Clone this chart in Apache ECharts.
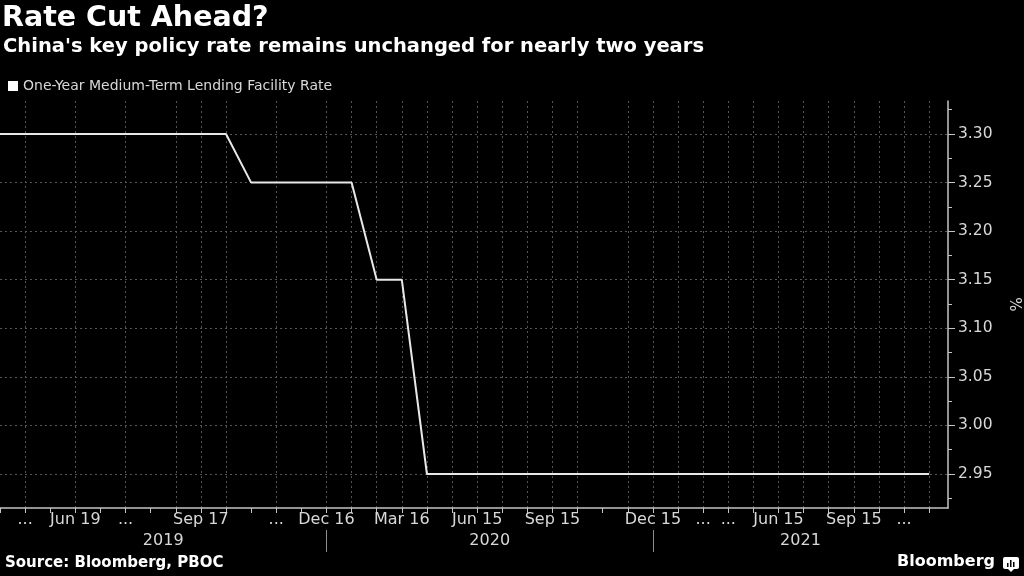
<!DOCTYPE html>
<html>
<head>
<meta charset="utf-8">
<title>Rate Cut Ahead?</title>
<script src="https://cdn.jsdelivr.net/npm/echarts@6/dist/echarts.min.js"></script>
<style>
    html, body { margin: 0; padding: 0; background: #000; }
    #chartmain { width: 1024px; height: 576px; }
</style>
</head>
<body>
<div id="chartmain"></div>
<script>
// one point per MLF operation, labels as printed under the axis
var tickLabels = ['', '...', '', 'Jun 19', '', '...', '', '', 'Sep 17', '', '', '...', '', 'Dec 16', '', '',
    'Mar 16', '', '', 'Jun 15', '', '', 'Sep 15', '', '', '', 'Dec 15', '', '...', '...', '', 'Jun 15', '', '',
    'Sep 15', '', '...', ''];
var rates = [3.30, 3.30, 3.30, 3.30, 3.30, 3.30, 3.30, 3.30, 3.30, 3.30,
    3.25, 3.25, 3.25, 3.25, 3.25,
    3.15, 3.15,
    2.95, 2.95, 2.95, 2.95, 2.95, 2.95, 2.95, 2.95, 2.95, 2.95, 2.95,
    2.95, 2.95, 2.95, 2.95, 2.95, 2.95, 2.95, 2.95, 2.95, 2.95];
var years = ['2019', '2020', '2021'];
var yearStarts = [13, 26];          // index where the next year block begins
var yTicks = [2.95, 3.00, 3.05, 3.10, 3.15, 3.20, 3.25, 3.30];
var gridGaps = [2, 4, 6, 10, 12, 24]; // ticks drawn without a vertical grid line

var myChart = echarts.init(document.getElementById('chartmain'));

var xMax = rates.length - 1 + 0.75;
var allIdx = rates.map(function (v, i) { return i; });
var labelIdx = allIdx.filter(function (i) { return tickLabels[i] !== ''; });
var gridIdx = allIdx.filter(function (i) { return i > 0 && gridGaps.indexOf(i) < 0; });
var bounds = [0].concat(yearStarts).concat([xMax]);
var yearCenters = years.map(function (y, i) { return (bounds[i] + bounds[i + 1]) / 2; });
var minorTicks = yTicks.map(function (v) { return +(v - 0.025).toFixed(3); })
    .concat([+(yTicks[yTicks.length - 1] + 0.025).toFixed(3)]);

var axisColor = '#c4c4c4';
var labelColor = '#d8d8d8';

var option = {
    backgroundColor: '#000',
    animation: false,
    textStyle: { fontFamily: 'DejaVu Sans' },
    title: [
        {
            text: 'Rate Cut Ahead?',
            left: 2, top: 4, padding: 0,
            textStyle: { color: '#fff', fontSize: 28.5, fontWeight: 'bold', fontFamily: 'DejaVu Sans' }
        },
        {
            text: "China's key policy rate remains unchanged for nearly two years",
            left: 3, top: 37, padding: 0,
            textStyle: { color: '#fff', fontSize: 19.5, fontWeight: 'bold', fontFamily: 'DejaVu Sans' }
        },
        {
            text: 'Source: Bloomberg, PBOC',
            left: 5, top: 556, padding: 0,
            textStyle: { color: '#fff', fontSize: 15, fontWeight: 'bold', fontFamily: 'DejaVu Sans' }
        }
    ],
    legend: {
        data: ['One-Year Medium-Term Lending Facility Rate'],
        left: 8, top: 79, padding: 0,
        icon: 'rect', itemWidth: 10, itemHeight: 10,
        textStyle: { color: labelColor, fontSize: 14 }
    },
    grid: { left: 0, right: 76, top: 101, bottom: 68, containLabel: false, outerBoundsMode: 'none' },
    xAxis: [
        {
            type: 'value', min: 0, max: xMax, position: 'bottom',
            axisLine: { show: true, onZero: false, lineStyle: { color: axisColor, width: 1.5 } },
            axisTick: { show: true, customValues: allIdx, length: 5, lineStyle: { color: axisColor } },
            axisLabel: {
                customValues: labelIdx, margin: 4, color: labelColor, fontSize: 16,
                formatter: function (v) { return tickLabels[Math.round(v)]; }
            },
            splitLine: { show: false }
        },
        {
            // year row with separators
            type: 'value', min: 0, max: xMax, position: 'bottom', offset: 22,
            axisLine: { show: false, onZero: false },
            axisTick: { show: true, customValues: yearStarts, length: 22, lineStyle: { color: '#8c8c8c' } },
            axisLabel: {
                customValues: yearCenters, margin: 3, color: labelColor, fontSize: 16,
                formatter: function (v) {
                    var k = 0;
                    yearStarts.forEach(function (s) { if (v > s) k++; });
                    return years[k];
                }
            },
            splitLine: { show: false }
        },
        {
            // vertical grid lines only
            type: 'value', min: 0, max: xMax, position: 'bottom',
            axisLine: { show: false, onZero: false },
            axisTick: { show: false, customValues: gridIdx },
            axisLabel: { show: false },
            splitLine: { show: true, lineStyle: { color: '#555555', type: [2, 3], width: 1 } }
        }
    ],
    yAxis: [
        {
            type: 'value', position: 'right', min: 2.915, max: 3.334,
            name: '%', nameLocation: 'middle', nameGap: 58, nameRotate: -90,
            nameTextStyle: { color: labelColor, fontSize: 15 },
            axisLine: { show: true, onZero: false, lineStyle: { color: axisColor, width: 1.5 } },
            axisTick: { show: true, customValues: yTicks, length: 7, lineStyle: { color: axisColor } },
            axisLabel: {
                customValues: yTicks, margin: 10, color: labelColor, fontSize: 15.5,
                formatter: function (v) { return v.toFixed(2); }
            },
            splitLine: { show: true, lineStyle: { color: '#555555', type: [2, 3], width: 1 } }
        },
        {
            // minor ticks between labels
            type: 'value', position: 'right', min: 2.915, max: 3.334,
            axisLine: { show: false, onZero: false },
            axisTick: { show: true, customValues: minorTicks, length: 4, lineStyle: { color: axisColor } },
            axisLabel: { show: false },
            splitLine: { show: false }
        }
    ],
    graphic: [
        {
            type: 'text', right: 29, top: 554,
            style: { text: 'Bloomberg', fill: '#fff', font: 'bold 16px "DejaVu Sans"' }
        },
        {
            type: 'group', right: 5, top: 557,
            children: [
                { type: 'rect', shape: { x: 0, y: 0, width: 16, height: 12, r: 2 }, style: { fill: '#fff' } },
                { type: 'polygon', shape: { points: [[5, 12], [11, 12], [8, 15]] }, style: { fill: '#fff' } },
                { type: 'rect', shape: { x: 4, y: 6, width: 1.5, height: 4 }, style: { fill: '#000' } },
                { type: 'rect', shape: { x: 7, y: 3, width: 1.5, height: 7 }, style: { fill: '#000' } },
                { type: 'rect', shape: { x: 10, y: 5, width: 1.5, height: 5 }, style: { fill: '#000' } }
            ]
        }
    ],
    series: [{
        name: 'One-Year Medium-Term Lending Facility Rate',
        type: 'line',
        xAxisIndex: 0,
        yAxisIndex: 0,
        showSymbol: false,
        itemStyle: { color: '#ffffff' },
        lineStyle: { color: '#e8e8e8', width: 2 },
        data: rates.map(function (v, i) { return [i, v]; })
    }]
};

myChart.setOption(option);
</script>
</body>
</html>
